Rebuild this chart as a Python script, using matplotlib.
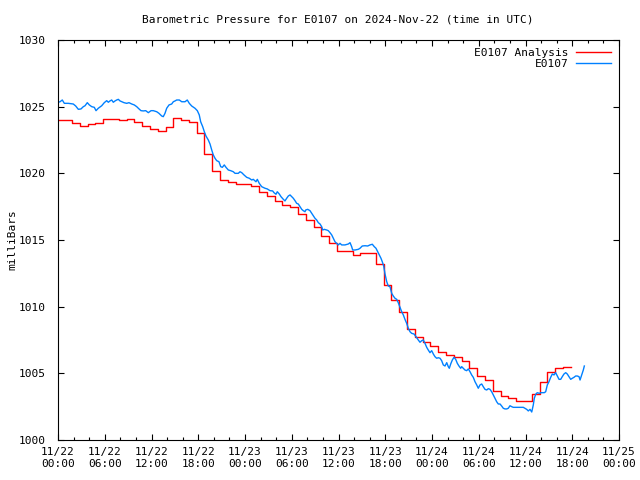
import numpy as np
import matplotlib
matplotlib.use("Agg")
import matplotlib.pyplot as plt
from matplotlib.ticker import MultipleLocator, FuncFormatter
from datetime import datetime, timedelta

# region data
start = datetime(2024, 11, 22, 0, 0)
title = "Barometric Pressure for E0107 on 2024-Nov-22 (time in UTC)"

# analysis: hourly values, each held for one hour (step plot)
red_first_hour = -0.2
red_mb = [1024.0, 1024.0, 1023.75, 1023.57, 1023.68, 1023.75, 1024.05, 1024.05, 1024.0, 1024.05,
          1023.83, 1023.57, 1023.35, 1023.18, 1023.45, 1024.13, 1024.0, 1023.83, 1023.0, 1021.43,
          1020.18, 1019.5, 1019.33, 1019.18, 1019.18, 1019.07, 1018.62, 1018.3, 1017.95, 1017.63,
          1017.45, 1016.95, 1016.5, 1016.0, 1015.3, 1014.8, 1014.18, 1014.18, 1013.88, 1014.05,
          1014.05, 1013.2, 1011.63, 1010.5, 1009.6, 1008.3, 1007.75, 1007.37, 1007.07, 1006.58,
          1006.38, 1006.2, 1005.9, 1005.38, 1004.8, 1004.5, 1003.7, 1003.28, 1003.13, 1002.95,
          1002.95, 1003.43, 1004.33, 1005.12, 1005.38, 1005.5]

# station observations (hours after start, millibars)
blue_hours = [0.04, 0.26, 0.55, 0.81, 1.32, 1.96, 2.27, 2.61, 2.95, 3.25,
              3.47, 3.76, 4.02, 4.33, 4.66, 4.88, 5.17, 5.61, 5.94, 6.25,
              6.46, 6.67, 6.89, 7.10, 7.32, 7.53, 7.74, 7.96, 8.18, 8.47,
              8.82, 9.11, 9.46, 9.79, 10.10, 10.40, 10.65, 10.95, 11.26, 11.59,
              11.94, 12.23, 12.67, 12.96, 13.31, 13.51, 13.73, 13.95, 14.25, 14.59,
              14.80, 15.02, 15.23, 15.57, 15.88, 16.30, 16.59, 16.85, 17.16, 17.58,
              17.88, 18.13, 18.31, 18.57, 18.78, 18.99, 19.29, 19.51, 19.73, 19.93,
              20.15, 20.37, 20.66, 20.88, 21.09, 21.34, 21.56, 21.86, 22.16, 22.50,
              22.72, 23.14, 23.36, 23.58, 23.87, 24.22, 24.55, 24.86, 25.06, 25.41,
              25.58, 25.83, 26.14, 26.57, 26.86, 27.21, 27.55, 27.72, 27.98, 28.14,
              28.40, 28.62, 28.92, 29.13, 29.35, 29.56, 29.78, 29.99, 30.20, 30.42,
              30.63, 30.84, 31.06, 31.28, 31.48, 31.70, 31.79, 32.05, 32.34, 32.56,
              32.77, 32.98, 33.20, 33.41, 33.63, 33.84, 33.97, 34.18, 34.48, 34.69,
              34.91, 35.13, 35.33, 35.55, 35.77, 35.97, 36.19, 36.41, 36.83, 37.26,
              37.48, 37.69, 37.82, 38.12, 38.54, 38.76, 39.05, 39.40, 39.75, 40.04,
              40.34, 40.59, 40.81, 41.03, 41.24, 41.45, 41.62, 41.80, 41.97, 42.19,
              42.39, 42.61, 42.83, 43.03, 43.25, 43.47, 43.67, 43.89, 44.11, 44.32,
              44.53, 44.75, 44.96, 45.18, 45.39, 45.69, 45.95, 46.24, 46.46, 46.68,
              46.88, 47.10, 47.32, 47.52, 47.74, 47.96, 48.17, 48.38, 48.60, 48.81,
              49.03, 49.24, 49.45, 49.67, 49.89, 50.09, 50.22, 50.40, 50.61, 50.82,
              51.04, 51.25, 51.46, 51.68, 51.81, 52.02, 52.23, 52.45, 52.66, 52.88,
              53.09, 53.30, 53.52, 53.74, 53.94, 54.16, 54.38, 54.58, 54.80, 55.02,
              55.23, 55.44, 55.66, 55.87, 56.08, 56.30, 56.51, 56.73, 56.94, 57.15,
              57.37, 57.59, 57.79, 58.01, 58.23, 58.43, 58.87, 59.29, 59.72, 60.15,
              60.36, 60.58, 60.80, 61.00, 61.13, 61.31, 61.51, 61.77, 61.99, 62.41,
              62.59, 62.80, 63.01, 63.23, 63.44, 63.66, 63.87, 64.08, 64.30, 64.52,
              64.72, 64.94, 65.16, 65.36, 65.58, 65.80, 66.01, 66.22, 66.44, 66.65,
              66.87, 67.00, 67.21, 67.42, 67.55]
blue_mb = [1025.33, 1025.37, 1025.5, 1025.25, 1025.25, 1025.2, 1025.05, 1024.80, 1024.83, 1025.0,
           1025.07, 1025.30, 1025.13, 1025.0, 1024.95, 1024.70, 1024.88, 1025.07, 1025.30, 1025.45,
           1025.33, 1025.43, 1025.5, 1025.33, 1025.43, 1025.5, 1025.55, 1025.43, 1025.37, 1025.30,
           1025.25, 1025.30, 1025.2, 1025.13, 1025.0, 1024.83, 1024.70, 1024.68, 1024.70, 1024.55,
           1024.70, 1024.70, 1024.62, 1024.50, 1024.30, 1024.25, 1024.50, 1024.88, 1025.13, 1025.2,
           1025.37, 1025.43, 1025.5, 1025.5, 1025.37, 1025.37, 1025.5, 1025.25, 1025.05, 1024.88,
           1024.70, 1024.38, 1023.87, 1023.50, 1023.12, 1022.8, 1022.5, 1022.2, 1021.75, 1021.38,
           1021.13, 1020.95, 1020.87, 1020.50, 1020.45, 1020.63, 1020.45, 1020.25, 1020.20, 1020.12,
           1020.0, 1020.0, 1020.12, 1020.05, 1019.88, 1019.70, 1019.63, 1019.5, 1019.55, 1019.37,
           1019.55, 1019.25, 1019.0, 1018.88, 1018.83, 1018.70, 1018.68, 1018.55, 1018.43, 1018.62,
           1018.45, 1018.25, 1018.05, 1017.93, 1018.13, 1018.3, 1018.38, 1018.25, 1018.13, 1017.95,
           1017.75, 1017.7, 1017.5, 1017.3, 1017.2, 1017.12, 1017.25, 1017.3, 1017.2, 1017.0,
           1016.8, 1016.63, 1016.5, 1016.3, 1016.2, 1016.0, 1015.75, 1015.8, 1015.75, 1015.7,
           1015.55, 1015.38, 1015.13, 1014.87, 1014.75, 1014.63, 1014.75, 1014.63, 1014.63, 1014.7,
           1014.8, 1014.5, 1014.25, 1014.25, 1014.3, 1014.38, 1014.55, 1014.57, 1014.55, 1014.63,
           1014.68, 1014.5, 1014.38, 1014.12, 1013.88, 1013.63, 1013.37, 1013.05, 1012.45, 1011.87,
           1011.55, 1011.5, 1011.0, 1010.8, 1010.63, 1010.55, 1010.3, 1009.95, 1009.62, 1009.38,
           1009.05, 1008.75, 1008.38, 1008.12, 1008.0, 1007.95, 1007.75, 1007.5, 1007.33, 1007.45,
           1007.5, 1007.25, 1006.95, 1006.75, 1006.55, 1006.7, 1006.45, 1006.25, 1006.13, 1006.17,
           1006.13, 1005.95, 1005.63, 1005.55, 1005.8, 1005.5, 1005.38, 1005.7, 1006.0, 1006.2,
           1006.05, 1005.75, 1005.55, 1005.38, 1005.5, 1005.38, 1005.25, 1005.2, 1005.33, 1005.12,
           1004.88, 1004.7, 1004.37, 1004.13, 1003.88, 1004.13, 1004.2, 1004.0, 1003.8, 1003.75,
           1003.85, 1003.8, 1003.62, 1003.38, 1003.13, 1002.87, 1002.7, 1002.7, 1002.55, 1002.38,
           1002.33, 1002.33, 1002.38, 1002.57, 1002.5, 1002.45, 1002.45, 1002.45, 1002.45, 1002.3,
           1002.18, 1002.3, 1002.1, 1002.63, 1003.13, 1003.43, 1003.55, 1003.5, 1003.55, 1003.55,
           1003.62, 1004.13, 1004.37, 1004.7, 1004.95, 1004.88, 1005.05, 1004.8, 1004.55, 1004.55,
           1004.75, 1004.95, 1005.05, 1004.95, 1004.75, 1004.55, 1004.63, 1004.7, 1004.8, 1004.8,
           1004.75, 1004.5, 1004.88, 1005.25, 1005.55]
# endregion

mono = "DejaVu Sans Mono"
plt.rcParams["font.family"] = mono

# the last analysis value is held for a full hour as well
red_hours = red_first_hour + np.arange(len(red_mb) + 1)
red_vals = np.append(red_mb, red_mb[-1])

fig = plt.figure(figsize=(6.4, 4.8), dpi=100)
ax = fig.add_axes([58 / 640, 40 / 480, 561 / 640, 400 / 480])

ax.step(red_hours, red_vals, where="post", color="#ff0000", lw=1.0, label="E0107 Analysis")
ax.plot(blue_hours, blue_mb, color="#0080ff", lw=1.0, label="E0107")

ax.set_xlim(0, 72)
ax.set_ylim(1000, 1030)
ax.xaxis.set_major_locator(MultipleLocator(6))
ax.xaxis.set_minor_locator(MultipleLocator(2))
ax.yaxis.set_major_locator(MultipleLocator(5))
ax.xaxis.set_major_formatter(FuncFormatter(
    lambda h, pos: (start + timedelta(hours=h)).strftime("%m/%d\n%H:%M")))
ax.yaxis.set_major_formatter(FuncFormatter(lambda v, pos: f"{v:.0f}"))

ax.tick_params(which="both", direction="in", top=True, right=True, width=0.8, labelsize=8)
ax.tick_params(which="major", length=4.5)
ax.tick_params(which="minor", length=2.5)
ax.tick_params(axis="x", pad=5)
ax.tick_params(axis="y", pad=9)
for s in ax.spines.values():
    s.set_linewidth(0.8)

leg = ax.legend(loc="upper right", frameon=False, markerfirst=False, fontsize=8,
                handlelength=3.2, handletextpad=0.6, borderaxespad=0.3, labelspacing=0.1)
for t in leg.get_texts():
    t.set_ha("right")

fig.text(338 / 640, 1 - 20 / 480, title, ha="center", va="center", fontsize=8)
fig.text(12 / 640, 1 - 240 / 480, "milliBars", rotation=90, ha="center", va="center", fontsize=8)

fig.savefig("out.png", dpi=100)
